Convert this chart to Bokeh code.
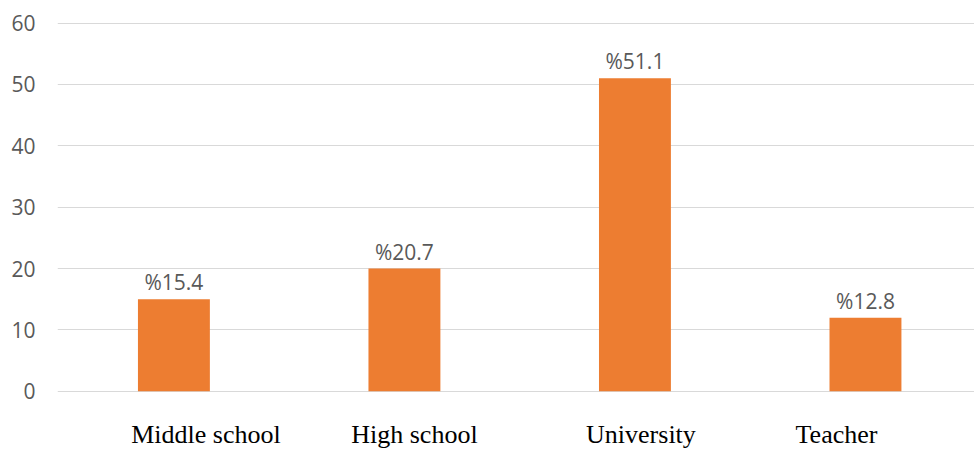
from bokeh.plotting import figure
from bokeh.models import ColumnDataSource, Range1d, FixedTicker
from bokeh.core.properties import value
from bokeh.embed import file_html
from bokeh.resources import INLINE

# ---- data ----
categories = ["Middle school", "High school", "University", "Teacher"]
bar_values = [15, 20, 51, 12]
value_labels = ["%15.4", "%20.7", "%51.1", "%12.8"]
y_ticks = [0, 10, 20, 30, 40, 50, 60]

# ---- style ----
label_x_offsets = [32, 10, 6, -29]
BAR_COLOR = "#ED7D31"
TEXT_GRAY = "#595959"
GRID_COLOR = "#D9D9D9"

xs = list(range(len(categories)))
src = ColumnDataSource(dict(x=xs, top=bar_values, lab=value_labels,
                            cat=categories, zero=[0] * len(xs),
                            xoff=label_x_offsets))

# frame extends to the bottom edge so the category texts are inside it
p = figure(width=974, height=451, output_backend="svg", toolbar_location=None,
           x_range=Range1d(-0.505, 3.473), y_range=Range1d(-9.8, 60.1),
           min_border_left=57, min_border_right=0, min_border_top=22,
           min_border_bottom=0)
p.outline_line_color = None
p.background_fill_color = "white"
p.border_fill_color = "white"

p.vbar(x="x", top="top", width=0.312, source=src, fill_color=BAR_COLOR,
       line_color=None)

p.text(x="x", y="top", text="lab", source=src, text_align="center",
       text_baseline="alphabetic", y_offset=-17, text_color=TEXT_GRAY,
       text_font=value("Open Sans"), text_font_size="21px")

p.text(x="x", y="zero", text="cat", source=src, text_align="center",
       text_baseline="alphabetic", x_offset="xoff", y_offset=43,
       text_color="black", text_font=value("Liberation Serif"),
       text_font_size="26px")

p.xaxis.visible = False
p.xgrid.grid_line_color = None
p.ygrid.grid_line_color = GRID_COLOR
p.ygrid.grid_line_width = 1.2

yax = p.yaxis[0]
yax.ticker = FixedTicker(ticks=y_ticks)
yax.axis_line_color = None
yax.major_tick_line_color = None
yax.minor_tick_line_color = None
yax.major_tick_out = 0
yax.major_tick_in = 0
yax.major_label_standoff = 22
yax.major_label_text_color = TEXT_GRAY
yax.major_label_text_font = "Open Sans"
yax.major_label_text_font_size = "21px"

open("out.html", "w").write(file_html(p, INLINE))
